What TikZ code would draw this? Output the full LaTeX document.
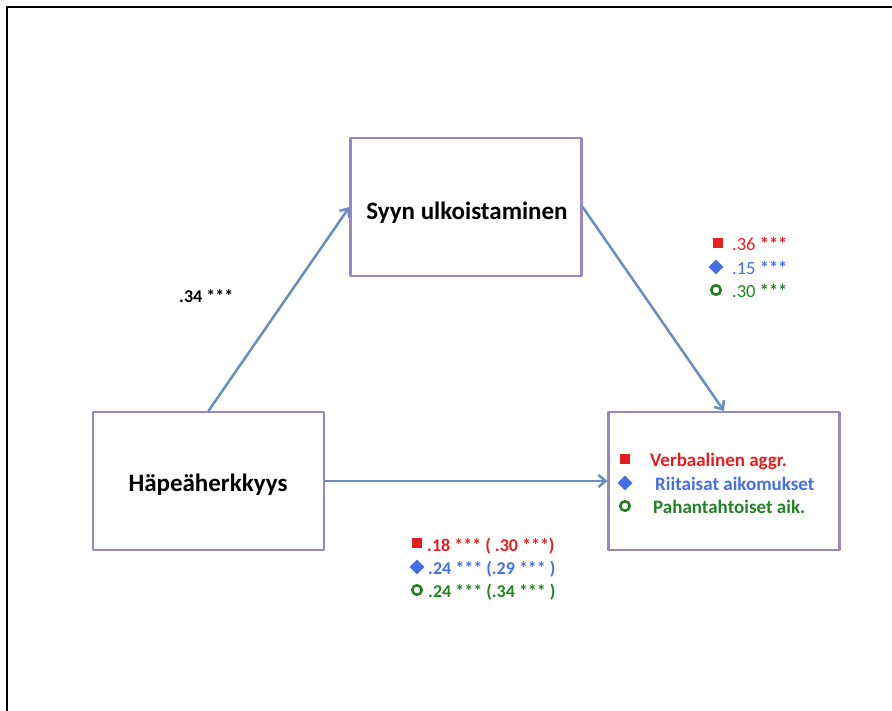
\documentclass[tikz,border=0pt]{standalone}
\usepackage{fontspec}
\setmainfont{Carlito}
\usetikzlibrary{arrows.meta,shapes.geometric}

\definecolor{boxline}{RGB}{155,135,192}
\definecolor{arrowc}{RGB}{104,142,192}
\definecolor{redv}{RGB}{232,30,30}
\definecolor{bluev}{RGB}{70,110,230}
\definecolor{greenv}{RGB}{34,130,34}

\begin{document}
\begin{tikzpicture}[x=1pt,y=-1pt,line cap=round,line join=round,
  varbox/.style={draw=boxline,line width=2.2pt,minimum width=231pt,minimum height=138pt,
    inner sep=0pt},
  title/.style={font=\fontsize{25}{29}\selectfont\bfseries},
  path/.style={draw=arrowc,line width=2.5pt,-{Straight Barb[length=7pt,width=12pt]}},
  val/.style={anchor=west,inner sep=0pt,font=\fontsize{18}{21}\selectfont\bfseries},
  sqm/.style={fill=redv,minimum size=10pt,inner sep=0pt},
  dim/.style={diamond,fill=bluev,minimum size=15pt,inner sep=0pt},
  cim/.style={circle,draw=greenv,line width=2.6pt,minimum size=9.5pt,inner sep=0pt}]

\useasboundingbox (0,0) rectangle (892,710);

% --- frame (top and left) ---
\draw[line width=2.2pt] (7,712) -- (7,7) -- (894,7);

% --- boxes ---
\node[varbox] (syy) at (466,207) {};
\node[title] at (467,213) {Syyn ulkoistaminen};
\node[varbox] (hap) at (208.5,481) {};
\node[title] at (208,485) {Häpeäherkkyys};
\node[varbox] (out) at (724,481) {};

% --- paths ---
\draw[path] (hap.north) -- (syy.west);
\draw[path] (syy.east) -- (out.north);
\draw[path] (hap.east) -- (out.west);

% a path
\node[val] (a) at (179,296) {.34 ***};

% b paths
\node[sqm] (bs) at (718,243) {};
\node[val,redv,font=\fontsize{18.5}{21}\selectfont] (b1) at (732,244) {.36 \textbf{***}};
\node[dim] (bd) at (716,267) {};
\node[val,bluev,font=\fontsize{18.5}{21}\selectfont] (b2) at (732,268) {.15 \textbf{***}};
\node[cim] (bc) at (716,290) {};
\node[val,greenv,font=\fontsize{18.5}{21}\selectfont] (b3) at (732,291) {.30 \textbf{***}};

% outcomes
\node[sqm] (os) at (625,459) {};
\node[val,redv,font=\fontsize{19}{22}\selectfont\bfseries] (o1) at (650,461) {Verbaalinen aggr.};
\node[dim] (od) at (625,483) {};
\node[val,bluev,font=\fontsize{19}{22}\selectfont\bfseries] (o2) at (655,484) {Riitaisat aikomukset};
\node[cim] (oc) at (625,506) {};
\node[val,greenv,font=\fontsize{19}{22}\selectfont\bfseries] (o3) at (653,507) {Pahantahtoiset aik.};

% c' (c) paths
\node[sqm] (cs) at (417,543) {};
\node[val,redv] (c1) at (427,546) {.18 *** ( .30 ***)};
\node[dim] (cd) at (417,567) {};
\node[val,bluev] (c2) at (428,569) {.24 *** (.29 *** )};
\node[cim] (cc) at (417,590) {};
\node[val,greenv] (c3) at (428,592) {.24 *** (.34 *** )};

\end{tikzpicture}
\end{document}
